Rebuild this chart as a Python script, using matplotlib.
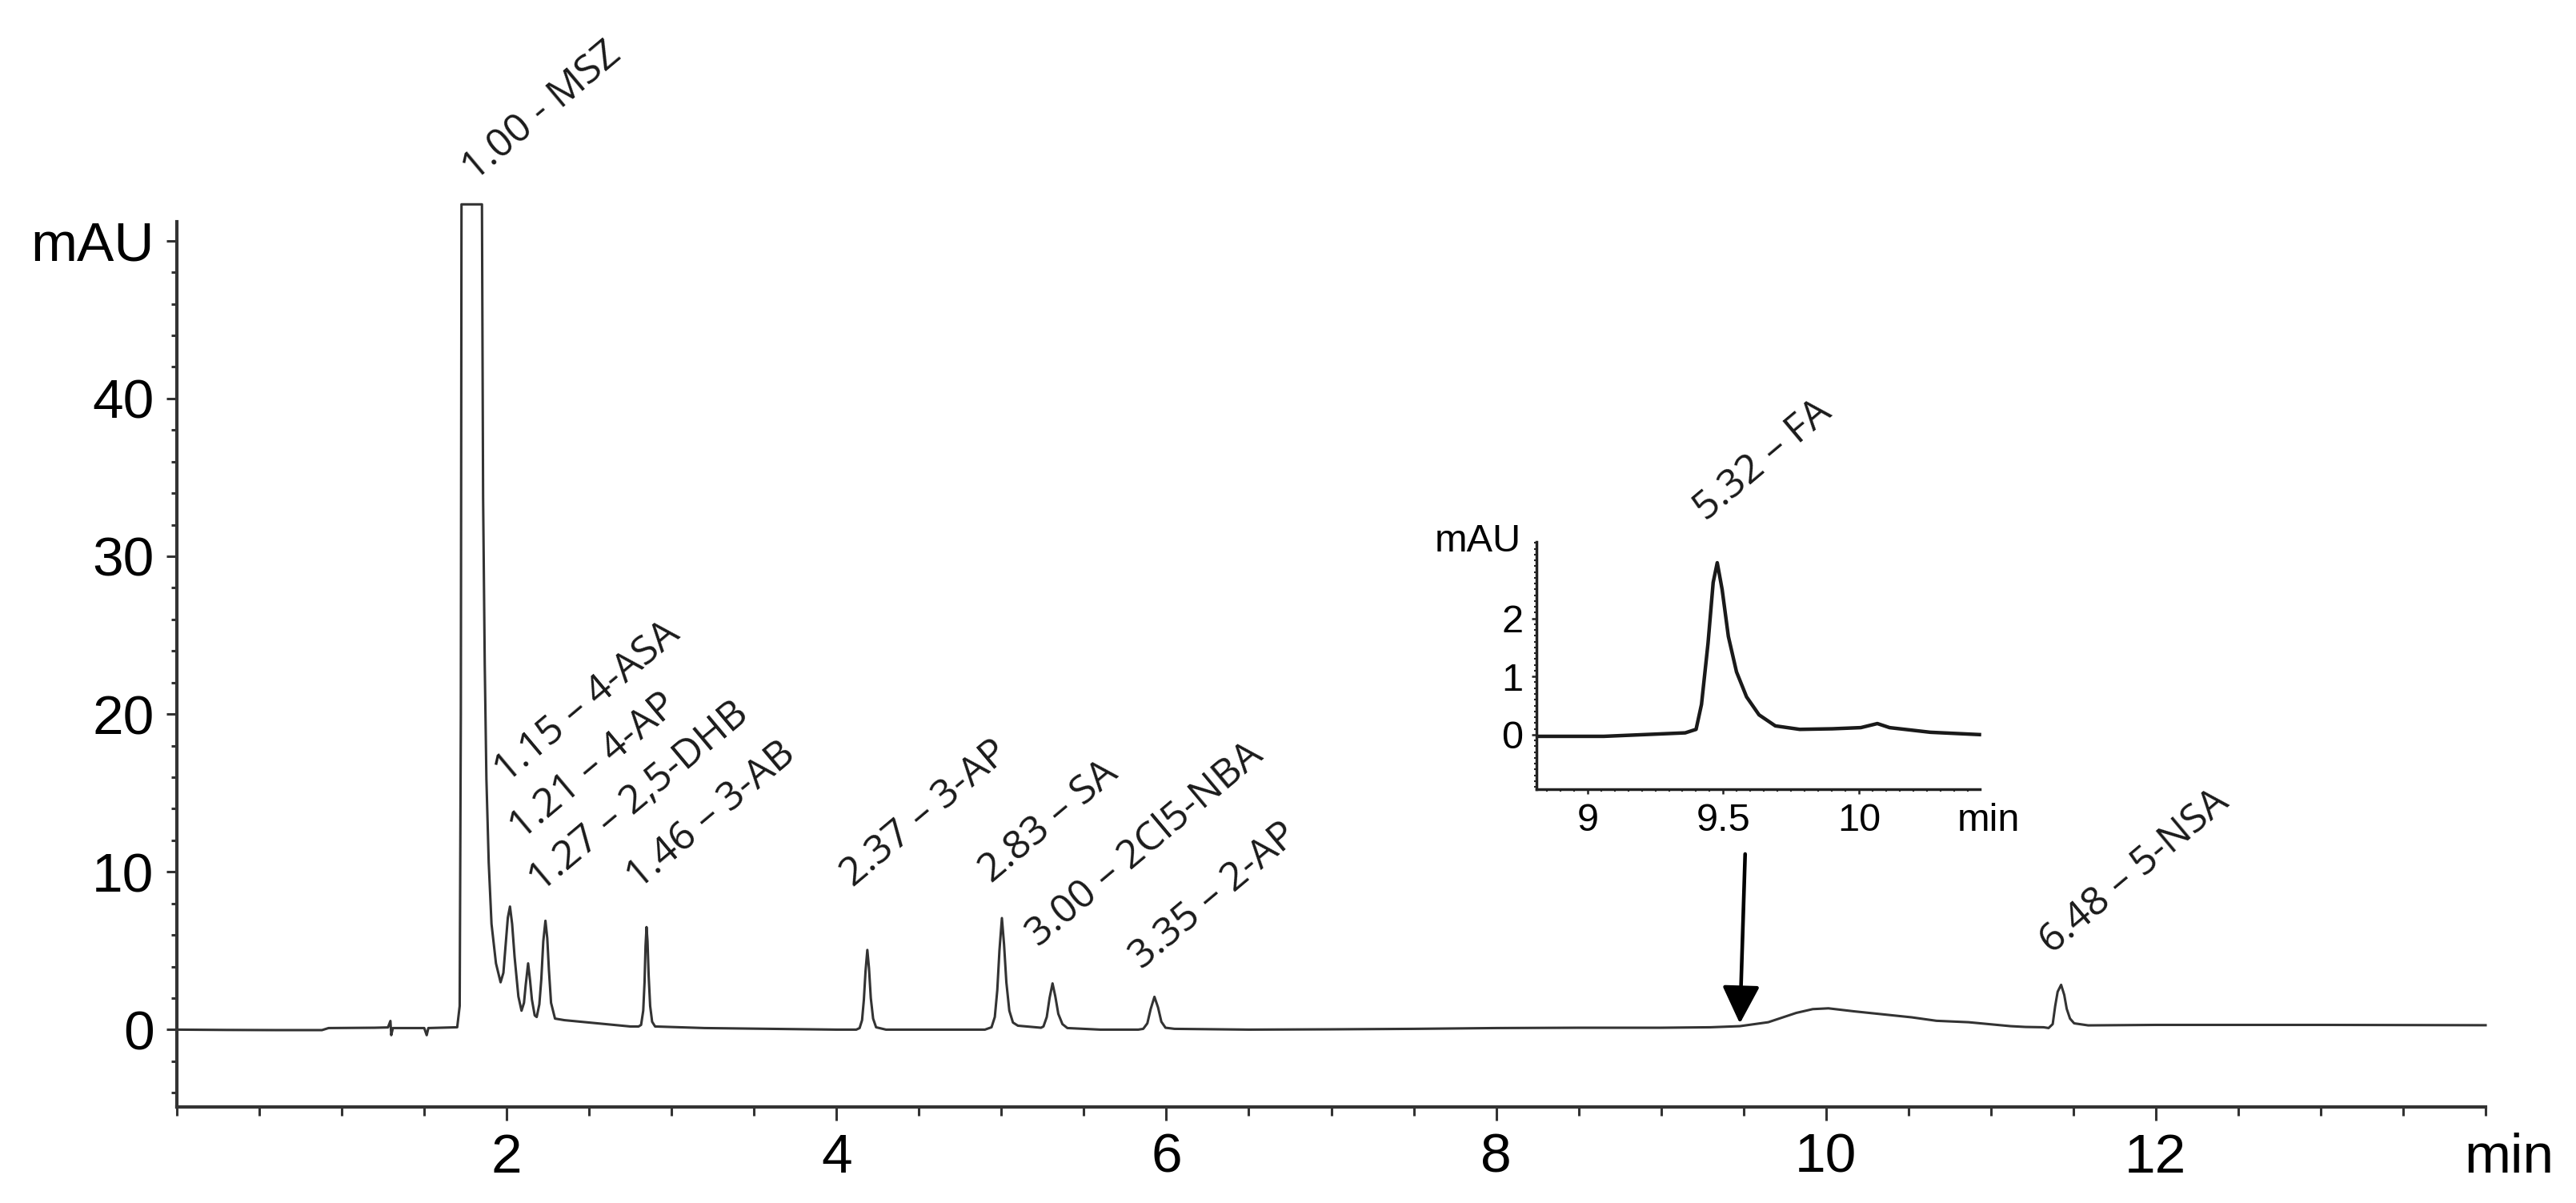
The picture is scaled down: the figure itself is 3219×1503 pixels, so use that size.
import matplotlib
matplotlib.use("Agg")
import matplotlib.pyplot as plt
from matplotlib.ticker import MultipleLocator

# chromatogram trace (time in min, signal in mAU)
time_min = [
    0.00, 0.30, 0.60, 0.88, 0.92, 1.20, 1.28, 1.295, 1.30, 1.31, 1.50, 1.515, 1.525,
    1.70, 1.715, 1.722, 1.726, 1.850, 1.857, 1.867, 1.877, 1.891, 1.908, 1.935, 1.963,
    1.980, 1.993, 2.007, 2.020, 2.033, 2.048, 2.071, 2.090, 2.105, 2.115, 2.130, 2.142,
    2.153, 2.170, 2.182, 2.198, 2.210, 2.222, 2.235, 2.246, 2.256, 2.269, 2.293, 2.35,
    2.45, 2.60, 2.75, 2.80, 2.815, 2.828, 2.836, 2.842, 2.848, 2.854, 2.861, 2.870,
    2.882, 2.90, 3.20, 3.60, 4.00, 4.12, 4.14, 4.155, 4.166, 4.176, 4.187, 4.197,
    4.208, 4.222, 4.240, 4.30, 4.60, 4.90, 4.94, 4.960, 4.975, 4.988, 5.003, 5.016,
    5.030, 5.048, 5.070, 5.100, 5.240, 5.255, 5.275, 5.292, 5.310, 5.327, 5.345, 5.370,
    5.400, 5.60, 5.83, 5.86, 5.885, 5.905, 5.928, 5.950, 5.970, 5.995, 6.05, 6.50,
    7.00, 7.50, 8.00, 8.50, 9.00, 9.30, 9.478, 9.65, 9.82, 9.92, 10.015, 10.17, 10.52,
    10.67, 10.865, 11.12, 11.21, 11.32, 11.35, 11.375, 11.39, 11.405, 11.426, 11.445,
    11.46, 11.48, 11.505, 11.59, 12.00, 13.00, 14.00,
]
signal_mau = [
    0.00, -0.02, -0.03, -0.03, 0.10, 0.12, 0.14, 0.55, -0.35, 0.10, 0.10, -0.35, 0.10,
    0.15, 1.5, 20.0, 52.3, 52.3, 33.7, 23.1, 15.9, 10.6, 6.7, 4.2, 3.0,
    3.6, 5.3, 7.1, 7.8, 6.7, 4.6, 2.1, 1.2, 1.7, 2.8, 4.2, 3.1,
    1.9, 0.9, 0.8, 1.6, 3.2, 5.6, 6.9, 5.8, 3.8, 1.7, 0.7, 0.6,
    0.5, 0.35, 0.2, 0.2, 0.3, 1.2, 3.0, 5.3, 6.5, 5.6, 3.4, 1.5,
    0.5, 0.2, 0.1, 0.05, 0.0, 0.0, 0.1, 0.6, 1.9, 3.7, 5.05, 3.9,
    2.0, 0.7, 0.15, 0.0, 0.0, 0.0, 0.15, 0.8, 2.5, 5.0, 7.07, 5.4,
    3.0, 1.2, 0.45, 0.25, 0.12, 0.2, 0.8, 2.0, 2.93, 2.1, 1.0, 0.35,
    0.1, 0.0, 0.0, 0.05, 0.4, 1.3, 2.08, 1.4, 0.5, 0.12, 0.05, 0.0,
    0.02, 0.05, 0.1, 0.12, 0.12, 0.15, 0.22, 0.47, 1.06, 1.3, 1.35, 1.16, 0.78,
    0.56, 0.47, 0.22, 0.17, 0.15, 0.1, 0.35, 1.49, 2.4, 2.84, 2.2,
    1.32, 0.7, 0.4, 0.27, 0.3, 0.3, 0.28,
]

# inset: zoom on the folic acid peak
inset_time = [8.82, 9.06, 9.36, 9.40, 9.42, 9.444, 9.463, 9.478, 9.496, 9.519, 9.549,
              9.586, 9.632, 9.692, 9.782, 9.902, 10.007, 10.068, 10.113, 10.263, 10.444]
inset_signal = [-0.03, -0.03, 0.03, 0.09, 0.52, 1.57, 2.62, 2.96, 2.5, 1.69, 1.08,
                0.65, 0.34, 0.15, 0.09, 0.10, 0.12, 0.19, 0.12, 0.04, 0.0]

# peak labels and where they start
peak_labels = ["1.00 - MSZ", "1.15 \u2013 4-ASA", "1.21 \u2013 4-AP", "1.27 \u2013 2,5-DHB",
               "1.46 \u2013 3-AB", "2.37 \u2013 3-AP", "2.83 \u2013 SA", "3.00 \u2013 2Cl5-NBA",
               "3.35 \u2013 2-AP", "6.48 \u2013 5-NSA"]
label_x = [1.807, 2.00, 2.09, 2.21, 2.80, 4.10, 4.94, 5.226, 5.85, 11.37]
label_y = [53.74, 15.58, 12.0, 8.68, 8.83, 9.0, 9.27, 5.21, 3.77, 4.72]

fa_label = "5.32 \u2013 FA"
fa_x, fa_y = 9.436, 3.66

main_xticks = [2, 4, 6, 8, 10, 12]
main_yticks = [0, 10, 20, 30, 40, 50]
main_yticklabels = ["0", "10", "20", "30", "40", "mAU"]
inset_xticks = [9, 9.5, 10]
inset_xticklabels = ["9", "9.5", "10"]
inset_yticks = [0, 1, 2]

tick_font = "Liberation Sans"
label_font = ["Open Sans", "DejaVu Sans"]
dark = "#333333"

fig = plt.figure(figsize=(32.19, 15.03), dpi=100)
ax = fig.add_axes([0.06866, 0.07984, 0.89624, 0.73586])

ax.plot(time_min, signal_mau, color="#333333", lw=2.2, clip_on=False, zorder=3)
ax.set_xlim(0, 14.0)
ax.set_ylim(-4.9, 51.2)

for side in ("top", "right"):
    ax.spines[side].set_visible(False)
for side in ("left", "bottom"):
    ax.spines[side].set_linewidth(3)
    ax.spines[side].set_color(dark)

ax.set_xticks(main_xticks)
ax.set_xticklabels([str(v) for v in main_xticks])
ax.xaxis.set_minor_locator(MultipleLocator(0.5))
ax.set_yticks(main_yticks)
ax.set_yticklabels(main_yticklabels)
ax.yaxis.set_minor_locator(MultipleLocator(2))
ax.tick_params(axis="x", which="major", length=12, width=2.2, color=dark, pad=11,
               labelsize=50)
ax.tick_params(axis="x", which="minor", length=8, width=2.2, color=dark)
ax.tick_params(axis="y", which="major", length=9.5, width=2.2, color=dark, pad=11,
               labelsize=50)
ax.tick_params(axis="y", which="minor", length=5, width=2.2, color=dark)
for lab in ax.get_xticklabels() + ax.get_yticklabels():
    lab.set_fontfamily(tick_font)

ax.annotate("min", xy=(14.14, 0), xycoords=("data", "axes fraction"),
            xytext=(0, -23), textcoords="offset points", ha="center", va="top",
            fontsize=50, family=tick_font)

# rotated peak names
for txt, lx, ly in zip(peak_labels, label_x, label_y):
    ax.text(lx, ly, txt, rotation=40, rotation_mode="anchor", ha="left",
            va="baseline", fontsize=36, family=label_font, color="#1a1a1a",
            clip_on=False)

# arrow pointing to the FA peak
ax.annotate("", xy=(9.478, 0.39), xytext=(9.51, 11.13),
            arrowprops=dict(arrowstyle="-|>,head_length=0.4,head_width=0.2",
                            mutation_scale=72, lw=3.3, color="black",
                            shrinkA=0, shrinkB=0))

# inset
ins = fig.add_axes([0.59646, 0.3440, 0.17195, 0.2056])
ins.plot(inset_time, inset_signal, color="#1a1a1a", lw=3.2, clip_on=False)
ins.set_xlim(8.812, 10.444)
ins.set_ylim(-0.94, 3.32)
for side in ("top", "right"):
    ins.spines[side].set_visible(False)
for side in ("left", "bottom"):
    ins.spines[side].set_linewidth(2.5)
    ins.spines[side].set_color("#222222")
ins.set_xticks(inset_xticks)
ins.set_xticklabels(inset_xticklabels)
ins.xaxis.set_minor_locator(MultipleLocator(0.05))
ins.set_yticks(inset_yticks)
ins.yaxis.set_minor_locator(MultipleLocator(0.1))
ins.tick_params(which="major", length=4, width=1.8, color="#222222", pad=8, labelsize=35)
ins.tick_params(which="minor", length=2, width=1.5, color="#222222")
for lab in ins.get_xticklabels() + ins.get_yticklabels():
    lab.set_fontfamily(tick_font)
ins.annotate("mAU", xy=(0, 1), xycoords="axes fraction", xytext=(-14, 0),
             textcoords="offset points", ha="right", va="center", fontsize=35,
             family=tick_font)
ins.annotate("min", xy=(10.477, 0), xycoords=("data", "axes fraction"),
             xytext=(0, -12), textcoords="offset points", ha="center", va="top",
             fontsize=35, family=tick_font)
ins.text(fa_x, fa_y, fa_label, rotation=40, rotation_mode="anchor", ha="left",
         va="baseline", fontsize=36, family=label_font, color="#1a1a1a", clip_on=False)

fig.savefig("out.png", dpi=100)
